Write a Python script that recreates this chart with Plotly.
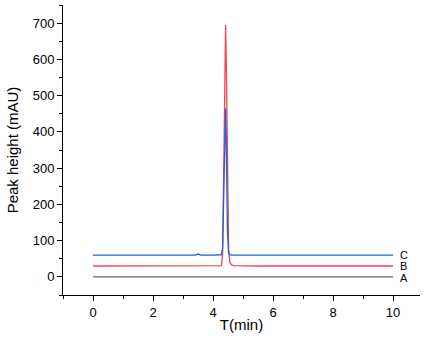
import plotly.graph_objects as go

times = [0, 0.5, 1, 1.5, 2, 2.5, 3, 3.4, 3.5, 3.6, 4.0, 4.2, 4.28, 4.32, 4.36, 4.39,
         4.42, 4.45, 4.48, 4.52, 4.56, 4.62, 4.7, 5, 5.5, 6, 6.5, 7, 7.5, 8, 8.5, 9, 9.5, 10]
series_a = [0, 0, 0.5, 0, 0, 0.3, 0, 0, 0.2, 0, 0, 0, 0, 0.5, 1, 1.5,
            2, 1.5, 1, 0.5, 0, 0, 0, 0, 0, 0.3, 0, 0, 0, 0.2, 0, 0, 0, 0]
series_b = [30, 30, 30, 30, 30, 30, 30, 30, 30, 30, 30, 30, 31, 60, 300, 600,
            695, 550, 250, 80, 40, 33, 31, 30, 30, 30, 30, 30, 30, 30, 30, 30, 30, 30]
series_c = [60, 60, 60, 60.5, 60, 60, 60, 60, 63, 60, 60, 60, 61, 80, 250, 420,
            465, 330, 130, 65, 61, 60, 60, 60, 60, 60, 60, 60, 60, 60, 60, 60, 60, 60]
labels = ["A", "B", "C"]
label_y = [-4, 30, 60]
colors = ["rgb(105,105,105)", "rgb(250,65,75)", "rgb(30,95,225)"]

fig = go.Figure()
for ys, col, name in zip([series_a, series_b, series_c], colors, labels):
    fig.add_trace(go.Scatter(x=times, y=ys, mode="lines", name=name,
                             line=dict(color=col, width=1.3)))

for lab, ly in zip(labels, label_y):
    fig.add_annotation(x=10.15, y=ly, text=lab, showarrow=False, xanchor="left",
                       font=dict(size=11, color="black"))

axis_common = dict(showline=True, linecolor="black", linewidth=1, ticks="outside",
                   ticklen=5, tickcolor="black", showgrid=False, zeroline=False,
                   mirror=False, automargin=False, tickfont=dict(size=13, color="black"))

fig.update_layout(
    width=429, height=339,
    margin=dict(l=63, r=9, t=5, b=44),
    paper_bgcolor="white", plot_bgcolor="white",
    showlegend=False,
    font=dict(family="Liberation Sans, Arial, sans-serif", color="black"),
    xaxis=dict(range=[-1, 10.9], dtick=2, tick0=0,
               minor=dict(ticks="outside", dtick=1, tick0=0, ticklen=3, tickcolor="black"),
               title=dict(text="T(min)", font=dict(size=15), standoff=0),
               **axis_common),
    yaxis=dict(range=[-50, 750], dtick=100, tick0=0,
               minor=dict(ticks="outside", dtick=50, tick0=0, ticklen=3, tickcolor="black"),
               title=dict(text="Peak height (mAU)", font=dict(size=15), standoff=10),
               **axis_common),
)

fig.write_html("out.html", config={"displayModeBar": False},
               post_script="document.body.style.margin='0';")
